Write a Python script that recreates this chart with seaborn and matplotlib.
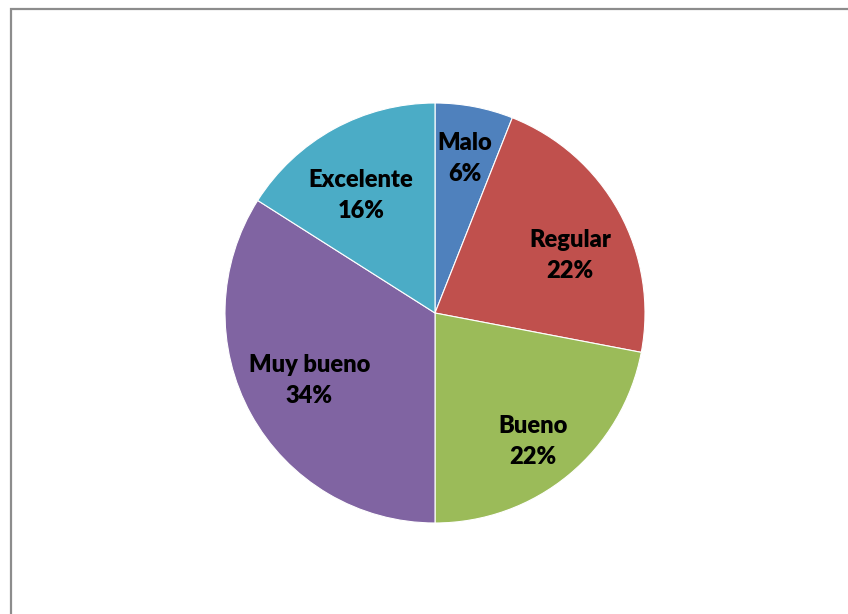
import numpy as np
import matplotlib
matplotlib.use("Agg")
import matplotlib.pyplot as plt
import seaborn as sns
from matplotlib.patches import Rectangle

categories = ["Malo", "Regular", "Bueno", "Muy bueno", "Excelente"]
percentages = [6, 22, 22, 34, 16]
colors = ["#4F81BD", "#C0504D", "#9BBB59", "#8064A2", "#4BACC6"]

sns.set_theme(style="white")
plt.rcParams["font.family"] = ["Lato", "DejaVu Sans"]

W, H = 848, 614
fig = plt.figure(figsize=(W / 100, H / 100), dpi=100)
fig.patch.set_facecolor("white")

# chart frame (extends past the right and bottom edges)
frame = Rectangle((11 / W, -0.1), 1.2, 1 - 9 / H + 0.1, transform=fig.transFigure,
                  fill=False, edgecolor="#8c8c8c", linewidth=1.6)
fig.patches.append(frame)

cx, cy, r = 435, 313, 210
ax = fig.add_axes([(cx - r) / W, (H - cy - r) / H, 2 * r / W, 2 * r / H])
wedges, _ = ax.pie(percentages, colors=colors, startangle=90, counterclock=False,
                   radius=1.0, wedgeprops=dict(edgecolor="white", linewidth=0.8))
ax.set_xlim(-1, 1)
ax.set_ylim(-1, 1)
ax.set_aspect("equal")
ax.axis("off")

# label placement: radial distance and angular nudge (degrees) per slice
label_dist = [0.75, 0.70, 0.77, 0.68, 0.66]
label_nudge = [0.0, -5.7, -2.4, -0.4, 3.4]
for w, name, pct, d, dn in zip(wedges, categories, percentages, label_dist, label_nudge):
    ang = np.deg2rad((w.theta1 + w.theta2) / 2 + dn)
    ax.text(d * np.cos(ang), d * np.sin(ang), f"{name}\n{pct}%",
            ha="center", va="center", fontsize=17, fontweight="heavy",
            color="black", linespacing=1.5)

fig.savefig("out.png", dpi=100)
